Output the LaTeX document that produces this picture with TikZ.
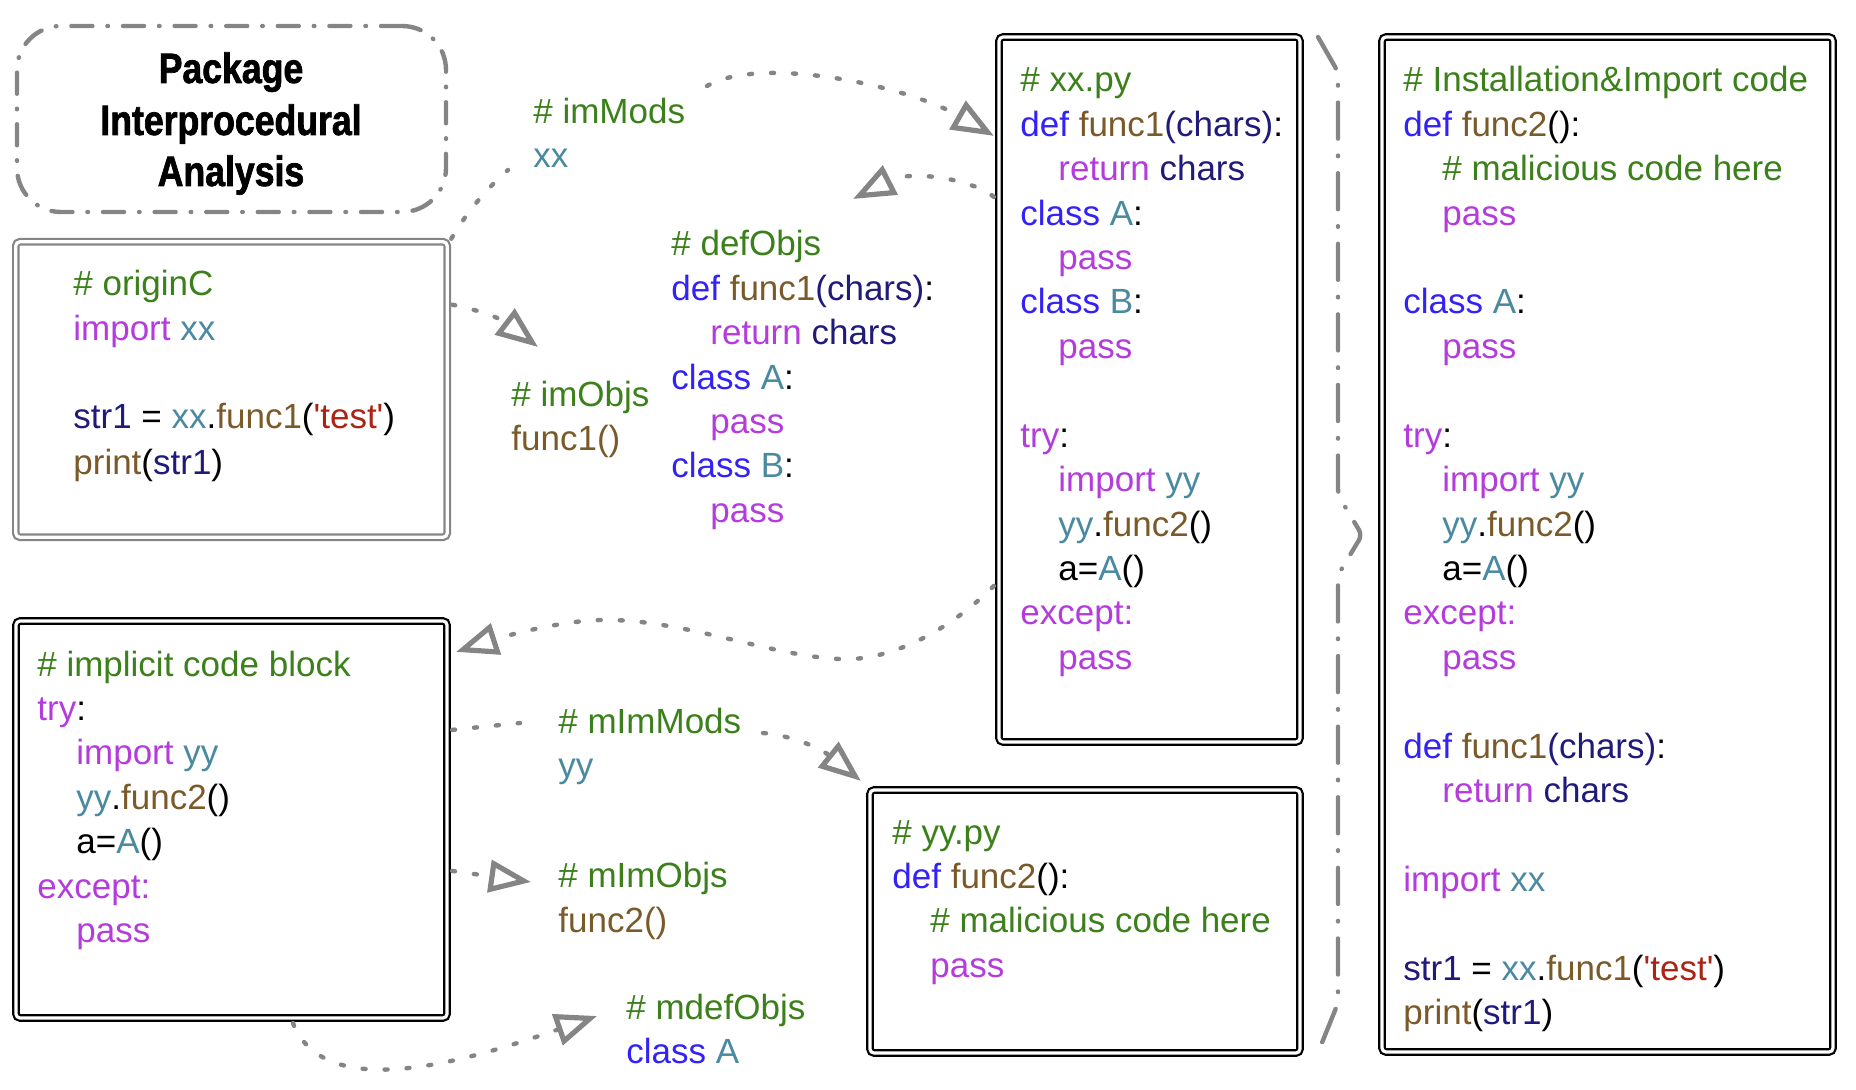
\documentclass[tikz,border=0pt]{standalone}
\usepackage{fontspec}
\setmainfont{Liberation Sans}
\newfontfamily\codef{Liberation Sans}[Ligatures=TeXOff]
\newfontfamily\titlef{Liberation Sans Bold}[FakeStretch=0.84,FakeBold=1.6]
\usetikzlibrary{arrows.meta,fit,calc}
\definecolor{ccom}{HTML}{3B801A}
\definecolor{ckw}{HTML}{3322F5}
\definecolor{cpu}{HTML}{B43CDC}
\definecolor{cte}{HTML}{4A8AA0}
\definecolor{cbr}{HTML}{7A5A28}
\definecolor{cnv}{HTML}{201A7A}
\definecolor{cre}{HTML}{AA2314}
\definecolor{lgray}{HTML}{858585}
\newcommand\Ccom[1]{\textcolor{ccom}{#1}}
\newcommand\Ckw[1]{\textcolor{ckw}{#1}}
\newcommand\Cpu[1]{\textcolor{cpu}{#1}}
\newcommand\Cte[1]{\textcolor{cte}{#1}}
\newcommand\Cbr[1]{\textcolor{cbr}{#1}}
\newcommand\Cnv[1]{\textcolor{cnv}{#1}}
\newcommand\Cre[1]{\textcolor{cre}{#1}}
\tikzset{
  code/.style={anchor=base west, inner sep=0pt, font=\codef\fontsize{17.5}{22}\selectfont},
  ttl/.style={anchor=base, inner sep=0pt, font=\titlef\fontsize{21.2}{26}\selectfont},
  dbox/.style={draw=black, double=white, double distance=1.6pt, line width=1.1pt, rounded corners=2pt, inner sep=0pt},
  gbox/.style={dbox, draw=lgray},
  tbox/.style={draw=lgray, line width=2.2pt, line cap=round, dash pattern=on 10.5pt off 7.5pt on 0.3pt off 7.5pt, rounded corners=22pt, inner sep=0pt},
  dotc/.style={draw=lgray, line width=2.2pt, line cap=round, dash pattern=on 1.5pt off 9.5pt},
  arr/.style={dotc, -{Triangle[open, length=21pt, width=16pt, line width=2.6pt]}},
  bracel/.style={draw=lgray, line width=2.2pt, line cap=round, dash pattern=on 18pt off 8.5pt on 0.3pt off 8.5pt, rounded corners=3pt}
}
\begin{document}
\begin{tikzpicture}[x=0.5pt,y=-0.5pt]
\useasboundingbox (0,0) rectangle (1856,1090);
% ---- boxes ----
\coordinate (tt-a) at (17,26); \coordinate (tt-b) at (446,212);
\node[tbox, fit=(tt-a)(tt-b)] (tt) {};
\coordinate (oc-a) at (15.8,241.8); \coordinate (oc-b) at (447.2,537.2);
\node[gbox, fit=(oc-a)(oc-b)] (oc) {};
\coordinate (ib-a) at (16,621); \coordinate (ib-b) at (447,1018);
\node[dbox, fit=(ib-a)(ib-b)] (ib) {};
\coordinate (xp-a) at (999,37); \coordinate (xp-b) at (1300,742);
\node[dbox, fit=(xp-a)(xp-b)] (xp) {};
\coordinate (yp-a) at (870,790); \coordinate (yp-b) at (1300,1053);
\node[dbox, fit=(yp-a)(yp-b)] (yp) {};
\coordinate (rb-a) at (1382,37); \coordinate (rb-b) at (1833,1052);
\node[dbox, fit=(rb-a)(rb-b)] (rb) {};
% ---- title ----
\node[ttl] (t1) at (231,83) {Package};
\node[ttl] (t2) at (231,135) {Interprocedural};
\node[ttl] (t3) at (231,186) {Analysis};
% ---- originC ----
\node[code] (oc1) at (73,296) {\Ccom{\# originC}};
\node[code] (oc2) at (73,341) {\Cpu{import} \Cte{xx}};
\node[code] (oc3) at (73,429) {\Cnv{str1} = \Cte{xx}.\Cbr{func1}(\Cre{'test'})};
\node[code] (oc4) at (73,474) {\Cbr{print}(\Cnv{str1})};
% ---- imMods ----
\node[code] (im1) at (533,124) {\Ccom{\# imMods}};
\node[code] (im2) at (533,168) {\Cte{xx}};
% ---- imObjs ----
\node[code] (io1) at (511,407) {\Ccom{\# imObjs}};
\node[code] (io2) at (511,451) {\Cbr{func1()}};
% ---- defObjs ----
\node[code] (d1) at (671,256) {\Ccom{\# defObjs}};
\node[code] (d2) at (671,300.4) {\Ckw{def} \Cbr{func1}\Cnv{(chars)}:};
\node[code] (d3) at (710,344.8) {\Cpu{return} \Cnv{chars}};
\node[code] (d4) at (671,389.2) {\Ckw{class} \Cte{A}:};
\node[code] (d5) at (710,433.6) {\Cpu{pass}};
\node[code] (d6) at (671,478) {\Ckw{class} \Cte{B}:};
\node[code] (d7) at (710,522.4) {\Cpu{pass}};
% ---- xx.py ----
\node[code] (x1) at (1020,92) {\Ccom{\# xx.py}};
\node[code] (x2) at (1020,136.4) {\Ckw{def} \Cbr{func1}\Cnv{(chars)}:};
\node[code] (x3) at (1058,180.8) {\Cpu{return} \Cnv{chars}};
\node[code] (x4) at (1020,225.2) {\Ckw{class} \Cte{A}:};
\node[code] (x5) at (1058,269.6) {\Cpu{pass}};
\node[code] (x6) at (1020,314) {\Ckw{class} \Cte{B}:};
\node[code] (x7) at (1058,358.4) {\Cpu{pass}};
\node[code] (x8) at (1020,447.2) {\Cpu{try}:};
\node[code] (x9) at (1058,491.6) {\Cpu{import} \Cte{yy}};
\node[code] (x10) at (1058,536) {\Cte{yy}.\Cbr{func2}()};
\node[code] (x11) at (1058,580.4) {a=\Cte{A}()};
\node[code] (x12) at (1020,624.8) {\Cpu{except:}};
\node[code] (x13) at (1058,669.2) {\Cpu{pass}};
% ---- implicit code block ----
\node[code] (b1) at (37,676) {\Ccom{\# implicit code block}};
\node[code] (b2) at (37,720.4) {\Cpu{try}:};
\node[code] (b3) at (76,764.8) {\Cpu{import} \Cte{yy}};
\node[code] (b4) at (76,809.2) {\Cte{yy}.\Cbr{func2}()};
\node[code] (b5) at (76,853.6) {a=\Cte{A}()};
\node[code] (b6) at (37,898) {\Cpu{except:}};
\node[code] (b7) at (76,942.4) {\Cpu{pass}};
% ---- mImMods / mImObjs / mdefObjs ----
\node[code] (mm1) at (558,733) {\Ccom{\# mImMods}};
\node[code] (mm2) at (558,777) {\Cte{yy}};
\node[code] (mo1) at (558,887) {\Ccom{\# mImObjs}};
\node[code] (mo2) at (558,932) {\Cbr{func2()}};
\node[code] (md1) at (626,1019) {\Ccom{\# mdefObjs}};
\node[code] (md2) at (626,1063) {\Ckw{class} \Cte{A}};
% ---- yy.py ----
\node[code] (y1) at (892,844) {\Ccom{\# yy.py}};
\node[code] (y2) at (892,888.4) {\Ckw{def} \Cbr{func2}():};
\node[code] (y3) at (930,932.8) {\Ccom{\# malicious code here}};
\node[code] (y4) at (930,977.2) {\Cpu{pass}};
% ---- right box ----
\node[code] (r1) at (1403,92) {\Ccom{\# Installation\&Import code}};
\node[code] (r2) at (1403,136.4) {\Ckw{def} \Cbr{func2}():};
\node[code] (r3) at (1442,180.8) {\Ccom{\# malicious code here}};
\node[code] (r4) at (1442,225.2) {\Cpu{pass}};
\node[code] (r5) at (1403,314) {\Ckw{class} \Cte{A}:};
\node[code] (r6) at (1442,358.4) {\Cpu{pass}};
\node[code] (r7) at (1403,447.2) {\Cpu{try}:};
\node[code] (r8) at (1442,491.6) {\Cpu{import} \Cte{yy}};
\node[code] (r9) at (1442,536) {\Cte{yy}.\Cbr{func2}()};
\node[code] (r10) at (1442,580.4) {a=\Cte{A}()};
\node[code] (r11) at (1403,624.8) {\Cpu{except:}};
\node[code] (r12) at (1442,669.2) {\Cpu{pass}};
\node[code] (r13) at (1403,758) {\Ckw{def} \Cbr{func1}\Cnv{(chars)}:};
\node[code] (r14) at (1442,802.4) {\Cpu{return} \Cnv{chars}};
\node[code] (r15) at (1403,891.2) {\Cpu{import} \Cte{xx}};
\node[code] (r16) at (1403,980) {\Cnv{str1} = \Cte{xx}.\Cbr{func1}(\Cre{'test'})};
\node[code] (r17) at (1403,1024.4) {\Cbr{print}(\Cnv{str1})};
% ---- connector free ends ----
\coordinate (imL) at (508,170);
\coordinate (imR) at (707,86);
\coordinate (doT) at (853,199);
\coordinate (ioT) at (538,347);
\coordinate (mmL) at (520,723);
\coordinate (mmR) at (763,733);
\coordinate (moT) at (531,882);
\coordinate (mdT) at (597,1016);
% ---- connectors ----
\draw[dotc] ([shift={(1.5pt,1pt)}]oc.north east) .. controls (465,215) and (485,190) .. (imL);
\draw[arr] (imR) .. controls (760,55) and (905,85) .. ([shift={(-2pt,-50pt)}]xp.north west);
\draw[arr] ([shift={(-2pt,-80.5pt)}]xp.north west) .. controls (970,178) and (910,170) .. (doT);
\draw[arr] ([shift={(2pt,-32pt)}]oc.north east) .. controls (475,309) and (500,318) .. (ioT);
\draw[arr] ([shift={(-2pt,-275pt)}]xp.north west) .. controls (950,630) and (890,662) .. (839,659)
   .. controls (770,656) and (680,618) .. (600,620)
   .. controls (560,621) and (505,636) .. ([shift={(4pt,-16pt)}]ib.north east);
\draw[dotc] ([shift={(2pt,-55pt)}]ib.north east) -- (mmL);
\draw[arr] (mmR) .. controls (790,735) and (820,748) .. ([shift={(-4pt,4pt)}]yp.north west);
\draw[arr] ([shift={(2pt,-125.5pt)}]ib.north east) -- (moT);
\draw[arr] ([shift={(30.75pt,-2pt)}]ib.south) .. controls (325,1105) and (470,1060) .. (mdT);
% ---- brace ----
\draw[bracel] (1318,37) -- (1338,72) -- (1338,495) -- (1362,535) -- (1338,575) -- (1338,1003) -- (1317,1055);
\end{tikzpicture}
\end{document}
